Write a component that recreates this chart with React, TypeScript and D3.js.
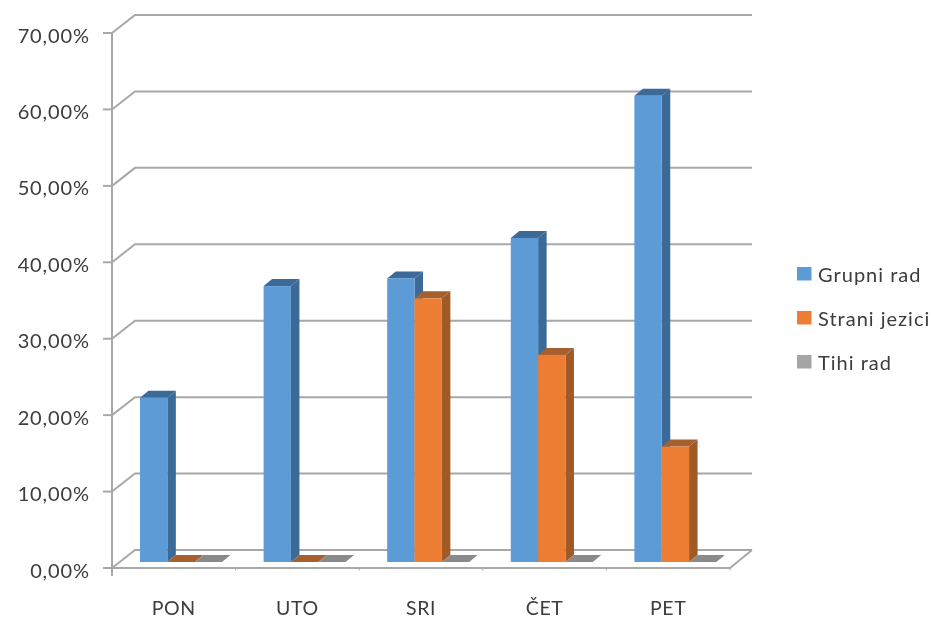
import React from "react";
import * as d3 from "d3";

const categories = ["PON", "UTO", "SRI", "ČET", "PET"];
const seriesNames = ["Grupni rad", "Strani jezici", "Tihi rad"];
const grupniRad = [21.5, 36.1, 37.1, 42.4, 61.0];
const straniJezici = [0, 0, 34.5, 27.1, 15.1];
const tihiRad = [0, 0, 0, 0, 0];
const yTicks = [0, 10, 20, 30, 40, 50, 60, 70];

const seriesValues = [grupniRad, straniJezici, tihiRad];
const front = ["#5b9bd5", "#ed7d31", "#a5a5a5"];
const side = ["#3a6a98", "#a05a28", "#7a7a7a"];
const topFace = ["#3a6a98", "#a5602e", "#8a8a8a"];
const FONT = "Lato, Carlito, sans-serif";
const GRID = "#a8a8a8";
const INK = "#3c3c3c";
const dx = 23, dy = 18;      // wall depth
const bdx = 8.5, bdy = 7;    // bar depth

export default function App() {
  const x0 = d3.scaleBand<string>().domain(categories).range([112, 730]);
  const xs = d3.scaleBand<number>().domain([0, 1, 2]).range([28, 110]);
  const yAxis = d3.scaleLinear().domain([0, 70]).range([568, 33]);
  const yBar = d3.scaleLinear().domain([0, 70]).range([562, 27]);
  const pts = (a: [number, number][]) => a.map((p) => p.join(",")).join(" ");

  return (
    <svg width={931} height={619} style={{ position: "absolute", left: 0, top: 0, background: "#fff" }}>
      <defs>
        <filter id="soft" x="-2%" y="-2%" width="104%" height="104%">
          <feGaussianBlur stdDeviation="0.6" />
        </filter>
      </defs>
      <g filter="url(#soft)">
        {yTicks.map((t) => {
          const y = yAxis(t);
          return (
            <g key={t} fill="none" stroke={GRID} strokeWidth={2}>
              <line x1={103} x2={112} y1={y} y2={y} />
              <polyline points={pts([[112, y], [112 + dx, y - dy], [752, y - dy]])} />
            </g>
          );
        })}
        <g fill="none" stroke={GRID} strokeWidth={2}>
          <line x1={112} x2={112} y1={yAxis(70)} y2={576} />
          <polyline points={pts([[112, 568], [730, 568], [752, 550]])} />
          {categories.map((c, i) => {
            const x = 112 + (i + 1) * x0.step();
            return <line key={i} x1={x} x2={x} y1={568} y2={570.5} strokeWidth={1} />;
          })}
        </g>
        {categories.map((c, i) => (
          <g key={c}>
            {[0, 1, 2].map((s) => {
              const xl = (x0(c) as number) + (xs(s) as number);
              const xr = xl + xs.bandwidth();
              const b = yBar(0);
              const t = yBar(seriesValues[s][i]);
              return (
                <g key={s}>
                  <polygon fill={side[s]} points={pts([[xr, b], [xr + bdx, b - bdy], [xr + bdx, t - bdy], [xr, t]])} />
                  <polygon fill={topFace[s]} points={pts([[xl, t], [xl + bdx, t - bdy], [xr + bdx, t - bdy], [xr, t]])} />
                  <rect x={xl} y={t} width={xs.bandwidth()} height={b - t} fill={front[s]} />
                </g>
              );
            })}
          </g>
        ))}
        {yTicks.map((t) => (
          <text key={t} x={90} y={yAxis(t) + 2.5} dy="0.35em" textAnchor="end" fontFamily={FONT} fontSize={20} letterSpacing={0.9} fill={INK}>
            {t.toFixed(2).replace(".", ",") + "%"}
          </text>
        ))}
        {categories.map((c) => (
          <text key={c} x={(x0(c) as number) + x0.bandwidth() / 2} y={614.5} textAnchor="middle" fontFamily={FONT} fontSize={19.5} letterSpacing={0.6} fill={INK}>
            {c}
          </text>
        ))}
        {seriesNames.map((n, i) => (
          <g key={n}>
            <rect x={797} y={267 + i * 44} width={14.5} height={13.5} fill={front[i]} />
            <text x={818} y={274.5 + i * 44} dy="0.35em" fontFamily={FONT} fontSize={20} letterSpacing={1} fill={INK}>{n}</text>
          </g>
        ))}
      </g>
    </svg>
  );
}
